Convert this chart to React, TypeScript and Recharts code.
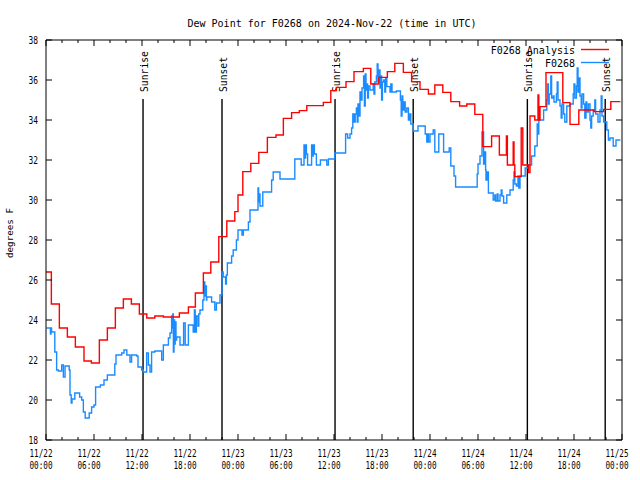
import { LineChart, Line, XAxis, YAxis, ReferenceLine } from "recharts";

const MONO = "'DejaVu Sans Mono', monospace";
const RED = "#ff0000";
const BLUE = "#1a8cff";

// hours since 11/22 00:00 UTC
const xTicks = [0, 2, 4, 6, 8, 10, 12, 14, 16, 18, 20, 22, 24, 26, 28, 30, 32, 34, 36, 38, 40, 42, 44, 46, 48, 50, 52, 54, 56, 58, 60, 62, 64, 66, 68, 70, 72];
const yTicks = [18, 20, 22, 24, 26, 28, 30, 32, 34, 36, 38];

const sunriseHours = [12.13, 36.13, 60.17];
const sunsetHours = [22.0, 45.9, 69.9];
const sunLineTop = 35.05;

// analysis (red), step changes
const redHours = [
  0, 0.67, 1.67, 2.67, 3.67, 4.75, 5.67, 6.67, 7.67, 8.67, 9.67, 10.67, 11.67, 12.6, 13.6, 14.67, 16.67, 17.8,
  18.67, 19.67, 20.6, 21.6, 22.6, 23.6, 24.0, 24.6, 25.6, 26.6, 27.67, 28.75, 29.67, 30.7, 31.67, 32.6, 34.67,
  35.6, 36.3, 37.5, 38.5, 39.67, 40.6, 41.6, 42.67, 43.6, 44.67, 45.7, 46.75, 47.8, 48.6, 49.6, 50.6, 51.7,
  52.6, 53.6, 54.6, 55.7, 56.67, 57.55, 57.67, 58.4, 58.5, 58.6, 59.4, 59.6, 60.3, 60.5, 61.1, 61.5, 61.6,
  61.75, 62.5, 64.6, 65.5, 66.6, 68.5, 69.7, 70.6, 71.8,
];
const redDew = [
  26.4, 24.8, 23.6, 23.15, 22.65, 21.95, 21.85, 23.0, 23.6, 24.6, 25.05, 24.8, 24.3, 24.1, 24.2, 24.15, 24.35, 24.65,
  25.35, 26.35, 26.9, 28.17, 28.95, 29.42, 30.25, 31.42, 31.83, 32.38, 33.13, 33.25, 34.08, 34.37, 34.47, 34.72, 34.88,
  35.47, 35.63, 35.92, 36.42, 36.58, 35.8, 36.13, 36.42, 36.83, 36.38, 35.92, 35.53, 35.3, 35.75, 35.38, 34.92, 34.7,
  34.8, 34.28, 32.67, 33.2, 32.25, 33.2, 31.75, 32.9, 31.75, 31.17, 33.6, 31.75, 31.37, 34.2, 34.0, 35.25, 34.0,
  34.67, 36.37, 34.87, 33.78, 34.5, 34.42, 34.53, 34.92, 34.92,
];

// station observations (blue)
const blueHours = [
  0.05, 0.55, 0.62, 0.7, 1.1, 1.33, 1.54, 1.96, 2.17, 2.38, 2.9, 3.0, 3.15, 3.25, 3.6, 4.2, 4.46, 4.67, 4.9, 5.4,
  5.7, 6.0, 6.2, 6.8, 7.25, 7.67, 8.6, 8.75, 9.46, 9.75, 10.1, 10.5, 10.7, 11.33, 11.5, 11.96, 12.17, 12.58, 12.8,
  13.0, 13.2, 13.6, 14.46, 14.67, 15.3, 15.5, 15.7, 15.78, 15.85, 15.92, 16.0, 16.08, 16.15, 16.25, 16.33, 16.75,
  17.2, 17.4, 17.8, 18.4, 18.55, 18.65, 18.8, 19.0, 19.1, 19.25, 19.6, 19.75, 19.85, 19.95, 20.05, 20.1, 20.7,
  21.1, 21.3, 21.75, 22.0, 22.15, 22.45, 22.55, 22.67, 23.2, 23.4, 23.8, 24.0, 24.5, 24.67, 25.3, 25.5, 26.5,
  26.58, 26.67, 26.75, 27.1, 28.2, 28.4, 29.25, 31.1, 31.9, 32.25, 32.35, 32.45, 32.55, 32.7, 33.2, 33.3, 33.4,
  33.55, 33.8, 34.3, 35.1, 35.3, 36.1, 37.45, 37.7, 38.0, 38.2, 38.35, 38.5, 38.65, 38.8, 38.9, 39.0, 39.1, 39.25,
  39.4, 39.5, 39.7, 39.8, 39.9, 40.0, 40.1, 40.2, 40.3, 40.5, 40.9, 41.0, 41.1, 41.3, 41.4, 41.5, 41.6, 41.75,
  41.85, 41.95, 42.05, 42.2, 42.35, 42.45, 42.6, 43.0, 43.1, 43.25, 43.8, 44.3, 44.4, 44.5, 44.6, 44.75, 44.9,
  45.1, 45.3, 45.45, 45.6, 45.9, 46.5, 47.4, 47.6, 47.7, 47.8, 48.0, 48.4, 48.6, 49.1, 49.7, 50.4, 50.6, 51.0,
  51.2, 53.9, 54.0, 54.25, 54.5, 54.7, 54.85, 54.95, 55.0, 55.15, 55.3, 55.9, 56.1, 56.2, 56.4, 56.5, 56.75,
  56.9, 57.0, 57.2, 57.6, 58.0, 58.4, 58.5, 58.6, 58.8, 59.0, 59.1, 59.25, 59.9, 60.3, 60.7, 61.1, 61.4, 61.5,
  61.6, 62.2, 62.6, 62.7, 62.8, 62.9, 63.1, 63.2, 63.4, 63.5, 63.8, 63.9, 64.0, 64.25, 64.4, 64.5, 64.7, 64.85,
  65.1, 65.5, 65.9, 66.0, 66.1, 66.3, 66.4, 66.5, 66.6, 66.75, 66.9, 67.0, 67.2, 67.35, 67.5, 67.6, 67.8, 68.0,
  68.1, 68.2, 68.4, 68.6, 68.7, 69.0, 69.25, 69.4, 69.5, 69.7, 70.1, 70.3, 70.5, 70.9, 71.25, 71.8,
];
const blueDew = [
  23.6, 23.3, 23.6, 23.4, 22.4, 21.5, 21.45, 21.75, 21.15, 21.7, 21.5, 20.25, 19.85, 20.05, 20.35, 20.15, 20.0, 19.4, 19.1, 19.35,
  19.65, 19.75, 20.65, 20.75, 21.0, 21.25, 21.8, 22.25, 22.35, 22.5, 22.25, 21.9, 22.25, 22.2, 21.65, 21.5, 21.4, 22.35, 21.75,
  21.4, 22.4, 22.45, 22.0, 22.75, 23.1, 23.35, 24.2, 23.6, 24.3, 22.4, 24.0, 22.8, 23.9, 23.0, 23.15, 22.75,
  23.85, 22.75, 23.75, 23.4, 24.5, 23.4, 24.2, 23.7, 24.3, 24.5, 25.0, 25.9, 25.2, 25.7, 25.0, 25.15, 24.9,
  24.5, 24.85, 25.25, 26.4, 26.15, 25.8, 26.25, 26.85, 27.2, 27.5, 28.0, 28.5, 28.25, 28.5, 28.9, 29.5, 30.6,
  29.9, 30.3, 29.7, 30.4, 31.0, 31.4, 31.05, 32.05, 31.75, 32.75, 32.1, 32.75, 32.3, 31.75, 32.75, 32.2, 32.75,
  32.3, 31.75, 32.0, 31.75, 32.05, 32.35, 33.3, 33.1, 33.3, 33.6, 34.3, 33.9, 34.3, 34.6, 33.9, 34.8, 34.2, 35.4,
  35.0, 35.6, 36.2, 34.7, 36.3, 35.5, 35.8, 35.1, 35.7, 35.5, 35.8, 35.3, 35.9, 36.2, 36.8, 35.9, 36.5, 35.6,
  36.2, 35.0, 35.9, 36.0, 35.4, 36.1, 35.67, 35.4, 35.8, 35.4, 35.45, 35.0, 34.2, 35.2, 34.5, 34.9, 34.4,
  34.6, 34.0, 34.3, 33.8, 33.45, 33.7, 33.3, 32.9, 33.3, 32.9, 33.3, 33.5, 32.4, 33.3, 32.4, 32.6, 31.7, 31.2,
  30.65, 31.3, 31.8, 32.2, 33.4, 31.8, 32.4, 31.5, 31.0, 31.4, 30.35, 30.0, 30.25, 29.95, 30.3, 29.95, 30.25,
  30.5, 30.2, 29.85, 30.25, 30.5, 31.0, 31.4, 30.8, 30.7, 31.2, 30.6, 31.2, 31.6, 31.75, 32.2, 32.7, 33.8, 33.3,
  34.0, 34.5, 35.0, 35.8, 34.8, 35.3, 36.2, 35.1, 35.2, 34.9, 35.3, 35.9, 35.0, 34.7, 34.1, 34.8, 34.3, 33.9,
  34.7, 34.8, 35.3, 35.8, 35.1, 35.7, 36.6, 35.4, 36.1, 35.2, 34.6, 35.3, 34.8, 34.1, 34.9, 34.4, 34.8, 34.0,
  33.6, 34.2, 34.5, 35.0, 34.3, 33.9, 34.5, 35.2, 34.2, 33.9, 33.5, 33.0, 33.1, 32.7, 33.0, 33.0,
];

const redData = redHours.map((t, i) => ({ t, v: redDew[i] }));
const blueData = blueHours.map((t, i) => ({ t, v: blueDew[i] }));

const dateLabel = (h: number) => `11/${22 + Math.floor(h / 24)}`;
const timeLabel = (h: number) => `${String(h % 24).padStart(2, "0")}:00`;

function BottomTick(props: any) {
  const { x, y, payload } = props;
  const h = payload.value;
  const major = h % 6 === 0;
  return (
    <g>
      <line x1={x} x2={x} y1={y} y2={y - (major ? 6 : 3)} stroke="#000" />
      {major && (
        <g fontFamily={MONO} fontSize={10} fill="#000">
          <text x={x - 5} y={y + 17} textAnchor="middle" textLength={23} lengthAdjust="spacingAndGlyphs">
            {dateLabel(h)}
          </text>
          <text x={x - 5} y={y + 29} textAnchor="middle" textLength={23} lengthAdjust="spacingAndGlyphs">
            {timeLabel(h)}
          </text>
        </g>
      )}
    </g>
  );
}

function TopTick(props: any) {
  const { x, y, payload } = props;
  const major = payload.value % 6 === 0;
  return <line x1={x} x2={x} y1={y} y2={y + (major ? 6 : 3)} stroke="#000" />;
}

function LeftTick(props: any) {
  const { x, y, payload } = props;
  return (
    <g>
      <line x1={x} x2={x + 6} y1={y} y2={y} stroke="#000" />
      <text
        x={x - 8}
        y={y + 3.5}
        textAnchor="end"
        fontFamily={MONO}
        fontSize={10}
        textLength={9.5}
        lengthAdjust="spacingAndGlyphs"
      >
        {payload.value}
      </text>
    </g>
  );
}

function RightTick(props: any) {
  const { x, y } = props;
  return <line x1={x} x2={x - 6} y1={y} y2={y} stroke="#000" />;
}

const sunShape = (label: string, len: number) => (p: any) => {
  const cx = p.x1;
  const top = Math.min(p.y1, p.y2);
  const bottom = Math.max(p.y1, p.y2);
  const ty = top - 7;
  return (
    <g>
      <line x1={cx} x2={cx} y1={top} y2={bottom} stroke="#000" strokeWidth={1.4} />
      <text
        x={cx + 1}
        y={ty}
        transform={`rotate(-90 ${cx + 1} ${ty})`}
        dominantBaseline="central"
        fontFamily={MONO}
        fontSize={10}
        textLength={len}
        lengthAdjust="spacingAndGlyphs"
      >
        {label}
      </text>
    </g>
  );
};

export default function App() {
  return (
    <div style={{ position: "absolute", left: 0, top: 0, width: 640, height: 480, background: "#fff" }}>
      <LineChart width={640} height={480} margin={{ top: 30, right: 8, bottom: 10, left: 6 }}>
        <XAxis
          dataKey="t"
          type="number"
          domain={[0, 72]}
          ticks={xTicks}
          interval={0}
          allowDataOverflow
          height={30}
          tickSize={0}
          tickMargin={0}
          tickLine={false}
          axisLine={{ stroke: "#000" }}
          tick={<BottomTick />}
        />
        <XAxis
          xAxisId="top"
          orientation="top"
          dataKey="t"
          type="number"
          domain={[0, 72]}
          ticks={xTicks}
          interval={0}
          allowDataOverflow
          height={10}
          tickSize={0}
          tickMargin={0}
          tickLine={false}
          axisLine={{ stroke: "#000" }}
          tick={<TopTick />}
        />
        <YAxis
          type="number"
          domain={[18, 38]}
          ticks={yTicks}
          interval={0}
          allowDataOverflow
          width={40}
          tickSize={0}
          tickMargin={0}
          tickLine={false}
          axisLine={{ stroke: "#000" }}
          tick={<LeftTick />}
        />
        <YAxis
          yAxisId="right"
          orientation="right"
          type="number"
          domain={[18, 38]}
          ticks={yTicks}
          interval={0}
          allowDataOverflow
          width={10}
          tickSize={0}
          tickMargin={0}
          tickLine={false}
          axisLine={{ stroke: "#000" }}
          tick={<RightTick />}
        />
        {sunriseHours.map((h) => (
          <ReferenceLine
            key={`sr${h}`}
            segment={[{ x: h, y: 18 }, { x: h, y: sunLineTop }]}
            stroke="#000"
            shape={sunShape("Sunrise", 41)}
          />
        ))}
        {sunsetHours.map((h) => (
          <ReferenceLine
            key={`ss${h}`}
            segment={[{ x: h, y: 18 }, { x: h, y: sunLineTop }]}
            stroke="#000"
            shape={sunShape("Sunset", 35)}
          />
        ))}
        <Line
          data={blueData}
          dataKey="v"
          type="stepAfter"
          stroke={BLUE}
          strokeWidth={1.4}
          dot={false}
          activeDot={false}
          isAnimationActive={false}
        />
        <Line
          data={redData}
          dataKey="v"
          type="stepAfter"
          stroke={RED}
          strokeWidth={1.4}
          dot={false}
          activeDot={false}
          isAnimationActive={false}
        />
      </LineChart>
      <svg
        width={640}
        height={480}
        style={{ position: "absolute", left: 0, top: 0, pointerEvents: "none" }}
        fontFamily={MONO}
      >
        <text x={332} y={27} textAnchor="middle" fontSize={10}>
          Dew Point for F0268 on 2024-Nov-22 (time in UTC)
        </text>
        <text
          x={9}
          y={233}
          transform="rotate(-90 9 233)"
          textAnchor="middle"
          dominantBaseline="central"
          fontSize={9.5}
          textLength={50}
          lengthAdjust="spacingAndGlyphs"
        >
          degrees F
        </text>
        <text x={575} y={53.5} textAnchor="end" fontSize={10}>
          F0268 Analysis
        </text>
        <line x1={581} x2={609} y1={49.5} y2={49.5} stroke={RED} strokeWidth={1.4} />
        <text x={575} y={66.5} textAnchor="end" fontSize={10}>
          F0268
        </text>
        <line x1={581} x2={609} y1={62.5} y2={62.5} stroke={BLUE} strokeWidth={1.4} />
      </svg>
    </div>
  );
}
